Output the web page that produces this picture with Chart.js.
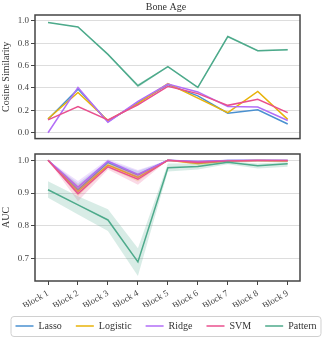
<!DOCTYPE html>
<html>
<head>
<meta charset="utf-8">
<script src="https://cdn.jsdelivr.net/npm/chart.js@4/dist/chart.umd.min.js"></script>
<style>
  body { margin: 0; background: #fff; }
  #wrap { position: relative; width: 332px; height: 341px; }
  #top { position: absolute; left: 0; top: 0; width: 332px; height: 146px; }
  #bottom { position: absolute; left: 0; top: 146px; width: 332px; height: 195px; }
</style>
</head>
<body>
<div id="wrap">
  <div id="top"><canvas id="cosChart"></canvas></div>
  <div id="bottom"><canvas id="aucChart"></canvas></div>
</div>
<script>
const blocks = ["Block 1", "Block 2", "Block 3", "Block 4", "Block 5", "Block 6", "Block 7", "Block 8", "Block 9"];
const series = ["Lasso", "Logistic", "Ridge", "SVM", "Pattern"];
const colors = ["#4a90d0", "#e8b30a", "#b26ef7", "#e9508e", "#4daa8b"];

// cosine similarity (top)
const cosLasso = [0.12, 0.39, 0.10, 0.27, 0.43, 0.33, 0.175, 0.205, 0.078];
const cosLogistic = [0.125, 0.36, 0.11, 0.26, 0.44, 0.31, 0.18, 0.37, 0.12];
const cosRidge = [0.0, 0.405, 0.095, 0.28, 0.435, 0.365, 0.235, 0.23, 0.11];
const cosSVM = [0.115, 0.235, 0.115, 0.25, 0.415, 0.35, 0.245, 0.30, 0.18];
const cosPattern = [0.985, 0.945, 0.70, 0.42, 0.59, 0.405, 0.86, 0.733, 0.742];
const cosPatternLo = [0.982, 0.942, 0.695, 0.405, 0.585, 0.40, 0.85, 0.725, 0.735];
const cosPatternHi = [0.988, 0.948, 0.705, 0.435, 0.595, 0.41, 0.87, 0.74, 0.75];

// AUC (bottom)
const aucLasso = [1.0, 0.91, 0.993, 0.955, 1.0, 0.995, 0.999, 0.999, 0.999];
const aucLogistic = [1.0, 0.905, 0.985, 0.948, 1.0, 0.99, 0.998, 0.999, 0.998];
const aucRidge = [1.0, 0.918, 0.997, 0.957, 1.0, 0.996, 0.999, 1.0, 0.999];
const aucSVM = [1.0, 0.898, 0.98, 0.942, 1.0, 0.993, 0.998, 0.999, 0.999];
const aucPattern = [0.91, 0.864, 0.818, 0.69, 0.977, 0.981, 0.994, 0.983, 0.989];
const aucLassoLo = [1.0, 0.895, 0.987, 0.945, 1.0, 0.99, 0.997, 0.997, 0.997];
const aucLassoHi = [1.0, 0.93, 0.998, 0.967, 1.0, 0.999, 1.0, 1.0, 1.0];
const aucLogisticLo = [1.0, 0.89, 0.977, 0.935, 1.0, 0.984, 0.995, 0.997, 0.995];
const aucLogisticHi = [1.0, 0.925, 0.992, 0.96, 1.0, 0.996, 1.0, 1.0, 1.0];
const aucRidgeLo = [1.0, 0.9, 0.99, 0.945, 1.0, 0.992, 0.998, 0.999, 0.998];
const aucRidgeHi = [1.0, 0.937, 1.003, 0.97, 1.0, 1.0, 1.0, 1.0, 1.0];
const aucSVMLo = [1.0, 0.875, 0.972, 0.925, 1.0, 0.988, 0.996, 0.997, 0.997];
const aucSVMHi = [1.0, 0.92, 0.988, 0.957, 1.0, 0.998, 1.0, 1.0, 1.0];
const aucPatternLo = [0.886, 0.835, 0.784, 0.647, 0.966, 0.972, 0.988, 0.975, 0.98];
const aucPatternHi = [0.936, 0.89, 0.851, 0.732, 0.99, 0.99, 0.998, 0.99, 0.995];

const cosTicks = [0.0, 0.2, 0.4, 0.6, 0.8, 1.0];
const aucTicks = [0.7, 0.8, 0.9, 1.0];

Chart.defaults.font.family = "'Liberation Serif', 'DejaVu Serif', serif";
Chart.defaults.font.size = 9;
Chart.defaults.color = "#444";

function pts(vals) {
  return vals.map((v, i) => ({ x: i + 1, y: v }));
}

function alpha(hex, a) {
  const n = parseInt(hex.slice(1), 16);
  return `rgba(${n >> 16}, ${(n >> 8) & 255}, ${n & 255}, ${a})`;
}

function buildSets(lines, bands) {
  const out = [];
  lines.forEach((vals, i) => {
    const base = 100 - i * 3;
    const b = bands[i];
    if (b) {
      out.push({ label: "", data: pts(b[1]), borderWidth: 0, pointRadius: 0, fill: false, order: base });
      out.push({ label: "", data: pts(b[0]), borderWidth: 0, pointRadius: 0, fill: "-1",
        backgroundColor: alpha(colors[i], 0.22), order: base - 1 });
    }
    out.push({
      label: series[i], data: pts(vals), borderColor: colors[i], backgroundColor: colors[i],
      borderWidth: 1.5, pointRadius: 0, fill: false, tension: 0, order: base - 2,
    });
  });
  return out;
}

const framePlugin = {
  id: "frame",
  afterDatasetsDraw(chart) {
    const a = chart.chartArea;
    const ctx = chart.ctx;
    ctx.save();
    ctx.strokeStyle = "#444";
    ctx.lineWidth = 1.5;
    ctx.strokeRect(a.left, a.top, a.right - a.left, a.bottom - a.top);
    ctx.restore();
  },
};

const legendBox = {
  id: "legendBox",
  afterDraw(chart) {
    const boxes = chart.legend && chart.legend.legendHitBoxes;
    if (!boxes || !boxes.length) return;
    const left = Math.min(...boxes.map(b => b.left)) - 5;
    const right = Math.max(...boxes.map(b => b.left + b.width)) + 4;
    const top = boxes[0].top - 5;
    const h = boxes[0].height + 10;
    const ctx = chart.ctx;
    ctx.save();
    ctx.strokeStyle = "#d0d0d0";
    ctx.lineWidth = 1;
    ctx.beginPath();
    ctx.roundRect(left + 0.5, top + 0.5, right - left, h, 3);
    ctx.stroke();
    ctx.restore();
  },
};

function yScale(min, max, ticks, title) {
  return {
    min: min, max: max,
    afterBuildTicks: s => { s.ticks = ticks.map(v => ({ value: v })); },
    afterFit: s => { s.width = 35; },
    ticks: { callback: v => v.toFixed(1), padding: 2, color: "#444" },
    grid: { color: "#dddddd", lineWidth: 1, tickLength: 4, tickColor: "#444", tickWidth: 1 },
    border: { display: false },
    title: { display: true, text: title, font: { size: 10 }, padding: { top: 0, bottom: 0 }, color: "#333" },
  };
}

// empty right axis that keeps the right margin without shifting the title
const rightPad = {
  position: "right", display: true,
  afterFit: s => { s.width = 32; },
  ticks: { display: false }, grid: { display: false }, border: { display: false },
};

new Chart(document.getElementById("cosChart"), {
  type: "line",
  data: {
    datasets: buildSets(
      [cosLasso, cosLogistic, cosRidge, cosSVM, cosPattern],
      [null, null, null, null, [cosPatternLo, cosPatternHi]]
    ),
  },
  options: {
    responsive: true, maintainAspectRatio: false, animation: false,
    layout: { padding: { left: 0, right: 0, top: 0, bottom: 4 } },
    plugins: {
      legend: { display: false },
      tooltip: { enabled: false },
      title: { display: true, text: "Bone Age", font: { size: 10, weight: "normal" }, color: "#333",
        padding: { top: 1, bottom: 2 } },
    },
    scales: {
      x: { type: "linear", min: 0.565, max: 9.41, display: false },
      y: yScale(-0.052, 1.052, cosTicks, "Cosine Similarity"),
      yR: rightPad,
    },
  },
  plugins: [framePlugin],
});

new Chart(document.getElementById("aucChart"), {
  type: "line",
  data: {
    datasets: buildSets(
      [aucLasso, aucLogistic, aucRidge, aucSVM, aucPattern],
      [[aucLassoLo, aucLassoHi], [aucLogisticLo, aucLogisticHi], [aucRidgeLo, aucRidgeHi],
       [aucSVMLo, aucSVMHi], [aucPatternLo, aucPatternHi]]
    ),
  },
  options: {
    responsive: true, maintainAspectRatio: false, animation: false,
    layout: { padding: { left: 0, right: 0, top: 8, bottom: 4 } },
    plugins: {
      tooltip: { enabled: false },
      legend: {
        position: "bottom",
        maxHeight: 30,
        labels: {
          boxWidth: 18, boxHeight: 2, padding: 14, color: "#333",
          font: { size: 10 },
          filter: item => item.text !== "",
          sort: (a, b) => a.datasetIndex - b.datasetIndex,
          generateLabels: chart => Chart.defaults.plugins.legend.labels.generateLabels(chart)
            .map(l => Object.assign(l, { lineWidth: 0, fillStyle: alpha(colors[series.indexOf(l.text)] || "#000000", 0.75) })),
        },
      },
    },
    scales: {
      x: {
        type: "linear", min: 0.565, max: 9.41,
        afterBuildTicks: s => { s.ticks = blocks.map((b, i) => ({ value: i + 1 })); },
        afterFit: s => { s.height = 26; },
        ticks: { callback: v => blocks[v - 1], minRotation: 30, maxRotation: 30, padding: 3, color: "#444" },
        grid: { drawOnChartArea: false, tickLength: 4, tickColor: "#444" },
        border: { display: false },
      },
      y: yScale(0.632, 1.019, aucTicks, "AUC"),
      yR: rightPad,
    },
  },
  plugins: [framePlugin, legendBox],
});
</script>
</body>
</html>
